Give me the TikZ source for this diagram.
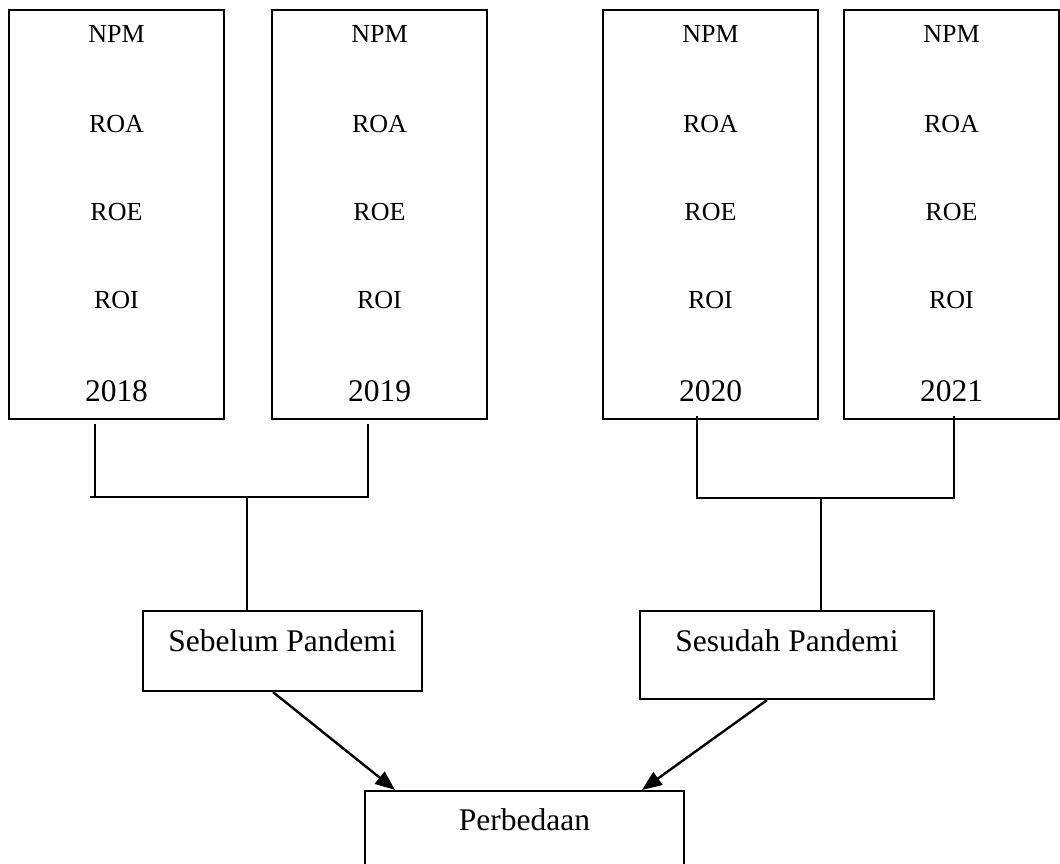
\documentclass[tikz,border=0pt]{standalone}
\usepackage{fontspec}
\setmainfont{Liberation Serif}
\usepackage{tikz}
\usetikzlibrary{arrows.meta,calc}

\tikzset{
  yearbox/.style={draw,line width=1.5pt,rectangle,minimum width=5.375cm,minimum height=10.225cm,inner sep=0pt},
  groupbox/.style={draw,line width=1.5pt,rectangle,minimum height=2cm,inner sep=0pt},
  metric/.style={anchor=base,inner sep=0pt,font=\fontsize{18.5}{22}\selectfont},
  biglbl/.style={anchor=base,inner sep=0pt,font=\fontsize{22.4}{26}\selectfont},
  link/.style={line width=1.3pt},
  arr/.style={line width=1.7pt,-{Triangle[length=14pt,width=11pt]}}
}

\begin{document}
\begin{tikzpicture}[x=0.025cm,y=-0.025cm]
                \useasboundingbox (0,0) rectangle (1060,863);

                % year boxes
                \foreach \yr/\cx in {2018/116.5,2019/379.5,2020/710.5,2021/951.5} {
                    \node[yearbox] (b\yr) at (\cx,214.5) {};
                    \foreach \m/\dy in {NPM/34,ROA/123.3,ROE/211.7,ROI/299.3}
                        \node[metric] (\m\yr) at ($(b\yr.north)+(0,\dy)$) {\m};
                    \node[biglbl] (t\yr) at ($(b\yr.north)+(0,392.3)$) {\yr};
                }

                % period boxes
                \node[groupbox,minimum width=6.975cm] (sebelum) at (282.5,651) {};
                \node[biglbl] (sebelumtxt) at ($(sebelum.north)+(0,41.7)$) {Sebelum Pandemi};
                \node[groupbox,minimum width=7.35cm,minimum height=2.2cm] (sesudah) at (787,655) {};
                \node[biglbl] (sesudahtxt) at ($(sesudah.north)+(0,41.7)$) {Sesudah Pandemi};
                \node[groupbox,minimum width=7.975cm] (perbedaan) at (524.5,831) {};
                \node[biglbl] (perbedaantxt) at ($(perbedaan.north)+(0,40.5)$) {Perbedaan};

                % brackets
                \coordinate (l1) at ($(b2018.south)+(-21.5,4)$);
                \coordinate (l2) at ($(b2019.south)+(-11.5,4)$);
                \coordinate (lj) at (247,497);
                \draw[link] (l1) -- (l1 |- lj) ++(-5,0) -- (l2 |- lj) -- (l2);
                \draw[link] (lj) -- (lj |- sebelum.north);

                \coordinate (r1) at ($(b2020.south)+(-13.5,-4)$);
                \coordinate (r2) at ($(b2021.south)+(2.5,-4)$);
                \coordinate (rj) at (821,498);
                \draw[link] (r1) |- (rj) -| (r2);
                \draw[link] (rj) -- (rj |- sesudah.north);

                % arrows
                \draw[arr] ($(sebelum.south)+(-9.5,0)$) -- ($(perbedaan.north)+(-129.5,0)$);
                \draw[arr] ($(sesudah.south)+(-20,0)$) -- ($(perbedaan.north)+(117.5,0)$);
            \end{tikzpicture}
\end{document}
